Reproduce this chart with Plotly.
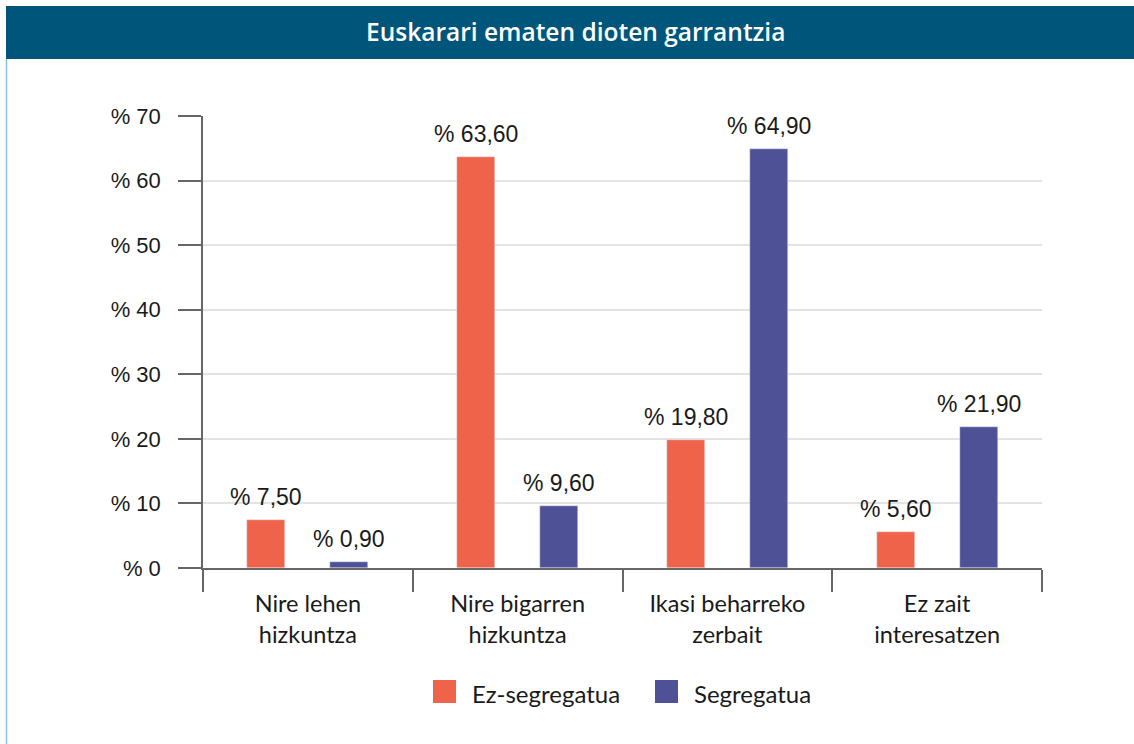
import plotly.graph_objects as go

categories = ["Nire lehen<br>hizkuntza", "Nire bigarren<br>hizkuntza", "Ikasi beharreko<br>zerbait", "Ez zait<br>interesatzen"]
ez_segregatua = [7.5, 63.6, 19.8, 5.6]
segregatua = [0.9, 9.6, 64.9, 21.9]
series_names = ["Ez-segregatua", "Segregatua"]
y_ticks = [0, 10, 20, 30, 40, 50, 60, 70]
y_tick_labels = ["% " + str(v) for v in y_ticks]
title_text = "Euskarari ematen dioten garrantzia"

colors = ["#EE634A", "#4F5196"]
W, H = 1134, 744
L, R, T, B = 203, 1042, 116, 568
num_font = "Liberation Sans, Arial, sans-serif"
hum_font = "Lato, Open Sans, sans-serif"


def px_x(p):
    return (p - L) / (R - L)


def px_y(p):
    return (B - p) / (B - T)


def fmt(v):
    return "% " + f"{v:.2f}".replace(".", ",")


bw = 0.181
fig = go.Figure()
for name, vals, col, off in [(series_names[0], ez_segregatua, colors[0], -0.198),
                             (series_names[1], segregatua, colors[1], 0.198)]:
    fig.add_trace(go.Bar(x=categories, y=vals, name=name, marker_color=col,
                         width=bw, offset=off - bw / 2, showlegend=False))
    for i, v in enumerate(vals):
        fig.add_annotation(x=i + off, y=v, xref="x", yref="y", text=fmt(v), showarrow=False,
                           yshift=8, yanchor="bottom",
                           font=dict(family=num_font, size=23, color="#1a1a1a"))

shapes = [
    dict(type="rect", xref="paper", yref="paper", x0=px_x(6), x1=px_x(1140), y0=px_y(59), y1=px_y(6),
         fillcolor="#00567A", line=dict(width=0), layer="above"),
    dict(type="line", xref="paper", yref="paper", x0=px_x(6.5), x1=px_x(6.5), y0=px_y(59), y1=px_y(750),
         line=dict(color="#8CC0DE", width=1.5)),
]
leg = [(433, 470, series_names[0], colors[0]), (655, 692, series_names[1], colors[1])]
for sx, tx, name, col in leg:
    shapes.append(dict(type="rect", xref="paper", yref="paper", x0=px_x(sx), x1=px_x(sx + 23),
                       y0=px_y(703), y1=px_y(680), fillcolor=col, line=dict(width=0)))
    fig.add_annotation(xref="paper", yref="paper", x=px_x(tx), y=px_y(693), text=name,
                       showarrow=False, xanchor="left", yanchor="middle",
                       font=dict(family=hum_font, size=24, color="#1a1a1a"))

fig.add_annotation(xref="paper", yref="paper", x=px_x(575), y=px_y(32), text=title_text,
                   showarrow=False, xanchor="center", yanchor="middle",
                   font=dict(family="Open Sans, Lato, sans-serif", size=24.5, color="white", weight=600))

fig.update_layout(
    width=W, height=H, margin=dict(l=L, r=W - R, t=T, b=H - B, pad=0, autoexpand=False),
    paper_bgcolor="white", plot_bgcolor="white", showlegend=False,
    shapes=shapes, bargap=0,
)
fig.update_yaxes(range=[0, 70], tickvals=y_ticks, ticktext=y_tick_labels,
                 showgrid=True, gridcolor="#E3E3E3", gridwidth=2,
                 ticks="outside", ticklen=23, tickcolor="#666666", tickwidth=1.5,
                 showline=True, linecolor="#666666", linewidth=1.5,
                 zeroline=False, ticklabelstandoff=13,
                 tickfont=dict(family=num_font, size=22, color="#1a1a1a"))
fig.update_xaxes(type="category", categoryorder="array", categoryarray=categories,
                 range=[-0.5, 3.5], tickangle=0, ticklabelstandoff=14,
                 tickson="boundaries", ticks="outside", ticklen=22, tickcolor="#666666", tickwidth=1.5,
                 showline=True, linecolor="#666666", linewidth=1.5, showgrid=False,
                 tickfont=dict(family=hum_font, size=23.5, color="#1a1a1a"))

fig.write_html("out.html", config={"displayModeBar": False},
               post_script="document.body.style.margin='0';")
